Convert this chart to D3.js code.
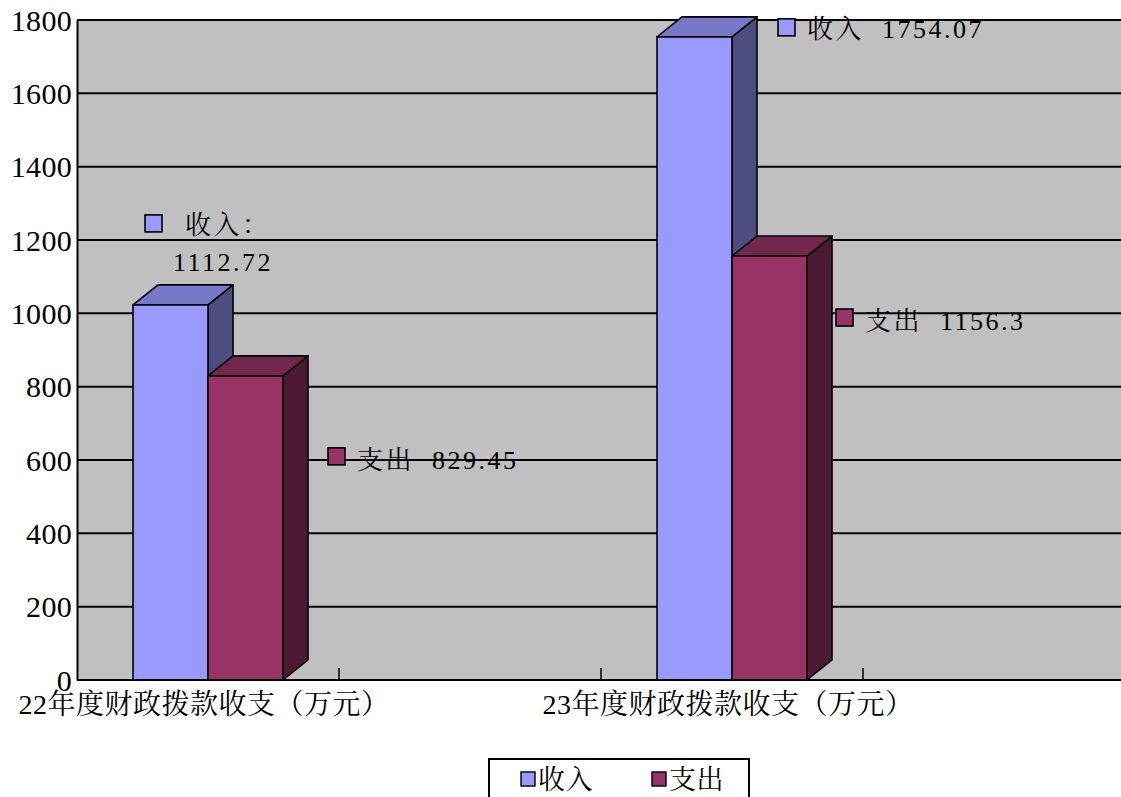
<!DOCTYPE html>
<html>
<head>
<meta charset="utf-8">
<script src="https://cdn.jsdelivr.net/npm/d3@7"></script>
<style>
  html, body { margin: 0; padding: 0; background: #fff; }
  svg { display: block; }
</style>
</head>
<body>
<svg id="chart" width="1121" height="797"></svg>
<script>
// ---- data ----
const categories = ["22年度财政拨款收支（万元）", "", "23年度财政拨款收支（万元）", ""];
const seriesNames = ["收入", "支出"];
const incomeValues = [1023, null, 1754.07, null];
const expenseValues = [829.45, null, 1156.3, null];
const incomeLabels = ["1112.72", null, "1754.07", null];
const expenseLabels = ["829.45", null, "1156.3", null];
const yTicks = [0, 200, 400, 600, 800, 1000, 1200, 1400, 1600, 1800];

(function () {
// ---- styles ----
const colors = {
  "收入": { front: "#9999FF", top: "#7878C8", side: "#4D4D80" },
  "支出": { front: "#993366", top: "#74274D", side: "#4D1A33" }
};
const FONT = '"Liberation Serif", "Noto Serif CJK SC", serif';
function styleText(sel, size, spacing) {
  return sel.attr("text-anchor", "start")
    .style("font-family", FONT).style("font-size", size + "px")
    .style("letter-spacing", spacing + "px").style("white-space", "pre").attr("fill", "#000");
}
// align a start-anchored text by measuring it (0 = left, 0.5 = centre, 1 = right)
function alignText(sel, frac) {
  sel.each(function () {
    const t = d3.select(this);
    const w = this.getComputedTextLength();
    t.attr("x", (+t.attr("x")) - w * frac);
  });
  return sel;
}

const svg = d3.select("#chart");
const W = 1121;
const pLeft = 77, pTop = 20, pBottom = 680;
const depthX = 25, depthY = -20;

const y = d3.scaleLinear().domain([0, 1800]).range([pBottom, pTop]);
const x = d3.scaleBand().domain(d3.range(categories.length)).range([pLeft, pLeft + 262 * categories.length]).padding(0);
const x1 = d3.scaleBand().domain(seriesNames).range([56, 206]).padding(0);

// plot background
svg.append("rect").attr("x", pLeft).attr("y", pTop).attr("width", W - pLeft).attr("height", pBottom - pTop)
  .attr("fill", "#C0C0C0");

// gridlines
svg.append("g").selectAll("line").data(yTicks.filter(t => t > 0)).join("line")
  .attr("x1", pLeft).attr("x2", W).attr("y1", d => y(d)).attr("y2", d => y(d))
  .attr("stroke", "#000").attr("stroke-width", 2);

// y axis
const yAxis = d3.axisLeft(y).tickValues(yTicks).tickSize(0).tickPadding(5).tickFormat(d3.format("d"));
const gy = svg.append("g").attr("transform", `translate(${pLeft},0)`).call(yAxis);
gy.attr("font-family", null).attr("font-size", null).attr("text-anchor", null);
gy.select(".domain").attr("stroke", "#000").attr("stroke-width", 2);
const tickTexts = styleText(gy.selectAll("text"), 30, 0.3).attr("dy", "0.34em");
alignText(tickTexts, 1);

// bars
const series = [
  { name: "收入", values: incomeValues },
  { name: "支出", values: expenseValues }
];
const barsG = svg.append("g");
categories.forEach((c, i) => {
  series.forEach(s => {
    const v = s.values[i];
    if (v == null) return;
    const bx = x(i) + x1(s.name);
    const bw = x1.bandwidth();
    const yt = y(v), y0 = y(0);
    const col = colors[s.name];
    const g = barsG.append("g").attr("stroke", "#000").attr("stroke-width", 1.6).attr("stroke-linejoin", "round");
    g.append("polygon").attr("points", [
      [bx + bw, yt], [bx + bw + depthX, yt + depthY], [bx + bw + depthX, y0 + depthY], [bx + bw, y0]
    ].map(p => p.join(",")).join(" ")).attr("fill", col.side);
    g.append("polygon").attr("points", [
      [bx, yt], [bx + depthX, yt + depthY], [bx + bw + depthX, yt + depthY], [bx + bw, yt]
    ].map(p => p.join(",")).join(" ")).attr("fill", col.top);
    g.append("rect").attr("x", bx).attr("y", yt).attr("width", bw).attr("height", y0 - yt).attr("fill", col.front);
  });
});

// x axis
svg.append("line").attr("x1", pLeft).attr("x2", W).attr("y1", pBottom).attr("y2", pBottom)
  .attr("stroke", "#000").attr("stroke-width", 2);
svg.append("g").selectAll("line").data(d3.range(1, categories.length)).join("line")
  .attr("x1", d => x(d)).attr("x2", d => x(d)).attr("y1", pBottom).attr("y2", pBottom - 12)
  .attr("stroke", "#000").attr("stroke-width", 1.5);
const catTexts = styleText(svg.append("g").selectAll("text")
  .data(categories.map((c, i) => ({ c, i })).filter(d => d.c)).join("text")
  .attr("x", d => x(d.i) + x.bandwidth() / 2 - 4).attr("y", 714), 28, 0.5)
  .text(d => d.c);
alignText(catTexts, 0.5);

// data labels (placement relative to each bar)
const labG = svg.append("g");
function square(xp, yp, name) {
  labG.append("rect").attr("x", xp).attr("y", yp).attr("width", 17).attr("height", 17)
    .attr("fill", colors[name].front).attr("stroke", "#000").attr("stroke-width", 1.6);
}
function label(xp, yp, t) {
  styleText(labG.append("text").attr("x", xp).attr("y", yp), 26, 2.5).text(t);
}
const bw = x1.bandwidth();
// 22 income
{
  const bx = x(0) + x1("收入"), yt = y(incomeValues[0]);
  square(bx + 12, yt - 90, "收入");
  label(bx + 52, yt - 71, "收入：");
  label(bx + 40, yt - 34, incomeLabels[0]);
}
// 22 expense
{
  const bx = x(0) + x1("支出"), yt = y(expenseValues[0]);
  square(bx + bw + depthX + 20, yt + 72, "支出");
  label(bx + bw + depthX + 49, yt + 93, "支出  " + expenseLabels[0]);
}
// 23 income
{
  const bx = x(2) + x1("收入"), yt = y(incomeValues[2]);
  square(bx + bw + depthX + 21, yt - 18, "收入");
  label(bx + bw + depthX + 50, yt + 1, "收入  " + incomeLabels[2]);
}
// 23 expense
{
  const bx = x(2) + x1("支出"), yt = y(expenseValues[2]);
  square(bx + bw + depthX + 4, yt + 53, "支出");
  label(bx + bw + depthX + 33, yt + 74, "支出  " + expenseLabels[2]);
}

// legend
const lg = svg.append("g");
lg.append("rect").attr("x", 489).attr("y", 759).attr("width", 260).attr("height", 50)
  .attr("fill", "#fff").attr("stroke", "#000").attr("stroke-width", 2);
const legX = [521, 652];
seriesNames.forEach((n, i) => {
  lg.append("rect").attr("x", legX[i]).attr("y", 772).attr("width", 14).attr("height", 14)
    .attr("fill", colors[n].front).attr("stroke", "#000").attr("stroke-width", 1.4);
  styleText(lg.append("text").attr("x", legX[i] + 17).attr("y", 789), 27, 0.5).text(n);
});
})();
</script>
</body>
</html>
